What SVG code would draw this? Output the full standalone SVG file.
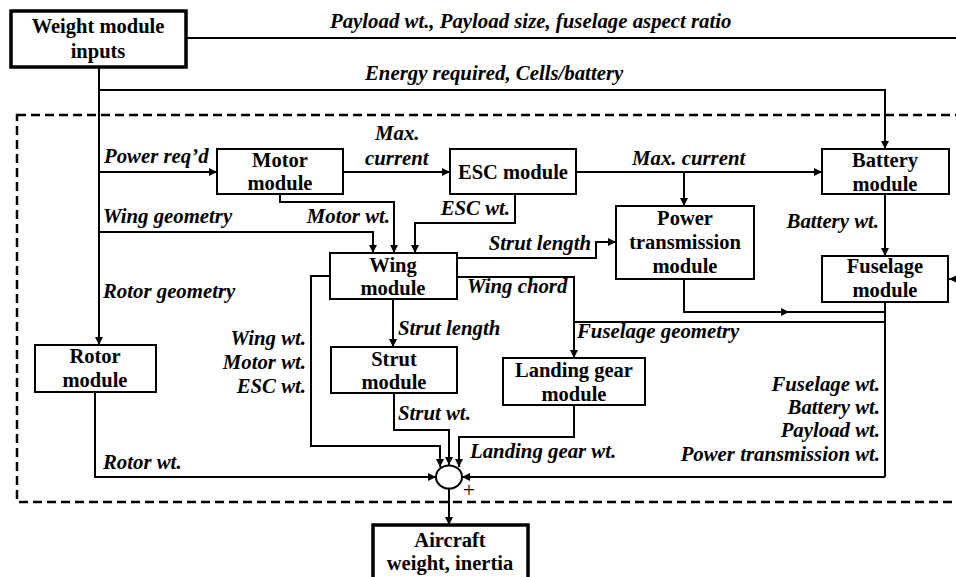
<svg xmlns="http://www.w3.org/2000/svg" width="956" height="577" viewBox="0 0 956 577">
<style>
.box{fill:#fff;stroke:#000;stroke-width:2}
.tbox{fill:#fff;stroke:#000;stroke-width:3.5}
.bt{font-family:"Liberation Serif","Times New Roman",serif;font-weight:bold;font-size:20.5px;text-anchor:middle;fill:#000}
.lb{font-family:"Liberation Serif","Times New Roman",serif;font-weight:bold;font-style:italic;font-size:20.8px;fill:#000}
.r{text-anchor:end}
.ln{fill:none;stroke:#000;stroke-width:2}
.ar{fill:none;stroke:#000;stroke-width:2;marker-end:url(#ah)}
</style>
<defs>
<marker id="ah" viewBox="0 0 10 10" refX="10" refY="5" markerWidth="9" markerHeight="8" markerUnits="userSpaceOnUse" orient="auto">
<path d="M0,0 L10,5 L0,10 z" fill="#000"/>
</marker>
</defs>
<rect x="17" y="115" width="960" height="387" fill="none" stroke="#000" stroke-width="2.5" stroke-dasharray="9,5"/>
<g id="connectors">
<path class="ln" d="M186,38 H956"/>
<path class="ar" d="M956,279 H949"/>
<path class="ln" d="M99,67 V345"/>
<path class="ar" d="M99,300 V345"/>
<path class="ar" d="M99,90 H885 V149"/>
<path class="ar" d="M99,172 H217"/>
<path class="ar" d="M343,172 H450"/>
<path class="ar" d="M576,172 H822"/>
<path class="ar" d="M684,172 V206"/>
<path class="ar" d="M885,194 V256"/>
<path class="ar" d="M99,232 H373 V253"/>
<path class="ar" d="M280,194 V202 H394 V253"/>
<path class="ar" d="M515,194 V223 H415 V253"/>
<path class="ar" d="M457,258 H596 V242 H616"/>
<path class="ar" d="M457,277 H574 V358"/>
<path class="ln" d="M885,322 H574"/>
<path class="ln" d="M684,279 V312 H885"/>
<path class="ar" d="M684,312 H789"/>
<path class="ln" d="M885,302 V477"/>
<path class="ar" d="M885,477 H462"/>
<path class="ar" d="M393,299 V347"/>
<path class="ar" d="M330,276 H311 V446 H440 V467"/>
<path class="ar" d="M394,393 V430 H449 V465"/>
<path class="ar" d="M574,405 V437 H459 V467"/>
<path class="ar" d="M95,392 V477 H436"/>
<path class="ar" d="M449,489 V525"/>
</g>
<g id="sum">
<ellipse cx="449" cy="477" rx="13" ry="11.5" fill="#fff" stroke="#000" stroke-width="2"/>
<text x="469" y="497" font-family="Liberation Serif, serif" font-size="22" text-anchor="middle" fill="#000">+</text>
</g>
<g id="weight-inputs">
<rect class="tbox" x="11" y="11" width="175" height="56"/>
<text class="bt" x="98" y="33">Weight module</text>
<text class="bt" x="98" y="58">inputs</text>
</g>
<g id="motor">
<rect class="box" x="217" y="149" width="126" height="45"/>
<text class="bt" x="280" y="167">Motor</text>
<text class="bt" x="280" y="190">module</text>
</g>
<g id="esc">
<rect class="box" x="450" y="149" width="126" height="45"/>
<text class="bt" x="513" y="179">ESC module</text>
</g>
<g id="battery">
<rect class="box" x="822" y="149" width="127" height="45"/>
<text class="bt" x="885" y="167">Battery</text>
<text class="bt" x="885" y="191">module</text>
</g>
<g id="power-transmission">
<rect class="box" x="616" y="206" width="138" height="73"/>
<text class="bt" x="685" y="225">Power</text>
<text class="bt" x="685" y="249">transmission</text>
<text class="bt" x="685" y="273">module</text>
</g>
<g id="fuselage">
<rect class="box" x="822" y="256" width="126" height="46"/>
<text class="bt" x="885" y="273">Fuselage</text>
<text class="bt" x="885" y="297">module</text>
</g>
<g id="wing">
<rect class="box" x="330" y="253" width="127" height="46"/>
<text class="bt" x="393" y="272">Wing</text>
<text class="bt" x="393" y="295">module</text>
</g>
<g id="rotor">
<rect class="box" x="35" y="345" width="121" height="47"/>
<text class="bt" x="95" y="363">Rotor</text>
<text class="bt" x="95" y="387">module</text>
</g>
<g id="strut">
<rect class="box" x="331" y="347" width="126" height="46"/>
<text class="bt" x="394" y="366">Strut</text>
<text class="bt" x="394" y="389">module</text>
</g>
<g id="landing-gear">
<rect class="box" x="503" y="358" width="142" height="47"/>
<text class="bt" x="574" y="377">Landing gear</text>
<text class="bt" x="574" y="401">module</text>
</g>
<g id="aircraft">
<rect class="tbox" x="373" y="525" width="155" height="60"/>
<text class="bt" x="450" y="547">Aircraft</text>
<text class="bt" x="450" y="570">weight, inertia</text>
</g>
<g id="labels">
<text class="lb" x="330" y="28">Payload wt., Payload size, fuselage aspect ratio</text>
<text class="lb" x="365" y="80">Energy required, Cells/battery</text>
<text class="lb" x="104" y="163">Power req’d</text>
<text class="lb" x="375" y="140">Max.</text>
<text class="lb" x="365" y="165">current</text>
<text class="lb" x="632" y="165">Max. current</text>
<text class="lb" x="103" y="223">Wing geometry</text>
<text class="lb r" x="390" y="223">Motor wt.</text>
<text class="lb r" x="510" y="215">ESC wt.</text>
<text class="lb r" x="591" y="250">Strut length</text>
<text class="lb r" x="879" y="228">Battery wt.</text>
<text class="lb" x="103" y="298">Rotor geometry</text>
<text class="lb" x="467" y="293">Wing chord</text>
<text class="lb" x="398" y="335">Strut length</text>
<text class="lb" x="577" y="338">Fuselage geometry</text>
<text class="lb r" x="306" y="345">Wing wt.</text>
<text class="lb r" x="306" y="369">Motor wt.</text>
<text class="lb r" x="306" y="393">ESC wt.</text>
<text class="lb" x="398" y="420">Strut wt.</text>
<text class="lb" x="470" y="458">Landing gear wt.</text>
<text class="lb" x="103" y="469">Rotor wt.</text>
<text class="lb r" x="880" y="391">Fuselage wt.</text>
<text class="lb r" x="880" y="414">Battery wt.</text>
<text class="lb r" x="880" y="437">Payload wt.</text>
<text class="lb r" x="880" y="461">Power transmission wt.</text>
</g>
</svg>
